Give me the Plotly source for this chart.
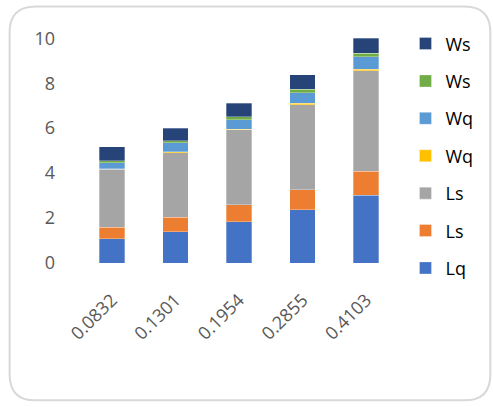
import plotly.graph_objects as go

categories = ["0.0832", "0.1301", "0.1954", "0.2855", "0.4103"]
lq_blue = [1.07, 1.40, 1.84, 2.36, 3.02]
ls_orange = [0.53, 0.64, 0.76, 0.90, 1.07]
ls_gray = [2.58, 2.87, 3.32, 3.79, 4.47]
wq_yellow = [0.01, 0.03, 0.04, 0.06, 0.06]
wq_lightblue = [0.27, 0.40, 0.42, 0.47, 0.55]
ws_green = [0.10, 0.10, 0.12, 0.15, 0.16]
ws_dark = [0.61, 0.56, 0.61, 0.64, 0.68]

series = [
    ("Lq", lq_blue, "#4472C4"),
    ("Ls", ls_orange, "#ED7D31"),
    ("Ls", ls_gray, "#A5A5A5"),
    ("Wq", wq_yellow, "#FFC000"),
    ("Wq", wq_lightblue, "#5B9BD5"),
    ("Ws", ws_green, "#70AD47"),
    ("Ws", ws_dark, "#264478"),
]

W, H = 493, 407
ml, mr, mt, mb = 80, 94.5, 35.7, 143.7
pw, ph = W - ml - mr, H - mt - mb

def px(x):
    return (x - ml) / pw

def py(y):
    return (H - mb - y) / ph

fig = go.Figure()
for i, (name, vals, col) in enumerate(series):
    fig.add_trace(go.Bar(
        x=categories, y=vals, name=name, legendgroup=f"g{i}", legendrank=100 - i,
        marker=dict(color=col, line=dict(color="rgba(255,255,255,0.5)", width=0.6)),
    ))

# rounded chart border
x0, y0, x1, y1, r = 9.5, 6, 491, 401, 26
path = (f"M {px(x0+r)},{py(y0)} L {px(x1-r)},{py(y0)} "
        f"Q {px(x1)},{py(y0)} {px(x1)},{py(y0+r)} "
        f"L {px(x1)},{py(y1-r)} Q {px(x1)},{py(y1)} {px(x1-r)},{py(y1)} "
        f"L {px(x0+r)},{py(y1)} Q {px(x0)},{py(y1)} {px(x0)},{py(y1-r)} "
        f"L {px(x0)},{py(y0+r)} Q {px(x0)},{py(y0)} {px(x0+r)},{py(y0)} Z")

fig.update_layout(
    width=W, height=H,
    margin=dict(l=ml, r=mr, t=mt, b=mb, pad=0),
    barmode="stack", bargap=0.6,
    plot_bgcolor="white", paper_bgcolor="white",
    font=dict(family="Open Sans, Liberation Sans, sans-serif", color="#595959", size=18),
    showlegend=True,
    legend=dict(
        x=px(406), y=py(25), xanchor="left", yanchor="top",
        traceorder="grouped", tracegroupgap=11, maxheight=400,
        font=dict(size=18, color="#000000", family="Open Sans, Liberation Sans, sans-serif"),
        itemwidth=30, bgcolor="rgba(0,0,0,0)",
    ),
    xaxis=dict(showgrid=False, showline=False, zeroline=False, tickangle=-45,
               ticks="", ticklabelstandoff=22),
    yaxis=dict(range=[0, 10.1], tickvals=[0, 2, 4, 6, 8, 10], showgrid=False,
               showline=False, zeroline=False, ticks="", ticklabelstandoff=24),
    shapes=[dict(type="path", xref="paper", yref="paper", path=path,
                 line=dict(color="#D9D9D9", width=2), layer="below")],
)

fig.write_html("out.html")
